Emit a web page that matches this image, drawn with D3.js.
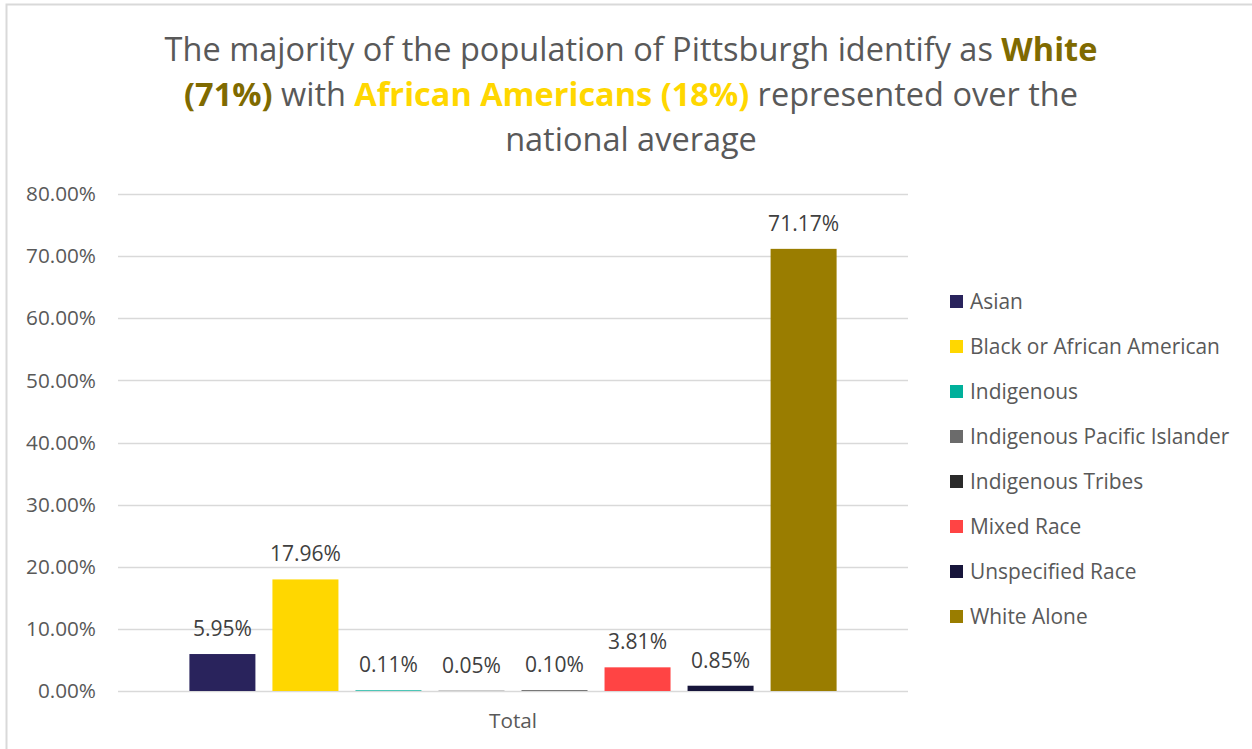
<!DOCTYPE html>
<html>
<head>
<meta charset="utf-8">
<script src="https://cdn.jsdelivr.net/npm/d3@7"></script>
<style>
  html, body { margin: 0; padding: 0; background: #fff; }
  svg { display: block; }
  text { font-family: "Open Sans", Calibri, sans-serif; }
</style>
</head>
<body>
<svg id="chart" width="1252" height="749"></svg>
<script>
const series = ["Asian", "Black or African American", "Indigenous", "Indigenous Pacific Islander",
                "Indigenous Tribes", "Mixed Race", "Unspecified Race", "White Alone"];
const values = [5.95, 17.96, 0.11, 0.05, 0.10, 3.81, 0.85, 71.17];
const colors = ["#29235c", "#ffd700", "#00b09b", "#6b6b6b", "#2a2a2a", "#ff4444", "#17153b", "#9a7d00"];
const category = "Total";
const yTicks = [0, 10, 20, 30, 40, 50, 60, 70, 80];

const svg = d3.select("#chart");
const W = 1252, H = 749;
const FONT = '"Open Sans", Calibri, sans-serif';

// fit a font size so that a sample string has the target width
function fitSize(sample, target, weight) {
  const t = svg.append("text").attr("font-size", 100).attr("font-weight", weight || "normal")
    .style("font-family", FONT).text(sample);
  const w = t.node().getComputedTextLength();
  t.remove();
  return 100 * target / w;
}
const tickSize = fitSize("80.00%", 70);
const labelSize = fitSize("71.17%", 71);
const legendSize = fitSize("Black or African American", 250);
const titleSize = fitSize("The majority of the population of Pittsburgh identify as White", 925);

// chart border
svg.append("rect").attr("x", 6.5).attr("y", 4.5).attr("width", W + 10).attr("height", H + 10)
  .attr("fill", "#fff").attr("stroke", "#d9d9d9").attr("stroke-width", 2);

// title
const tLines = [
  [["The majority of the population of Pittsburgh identify as ", null], ["White", "#7f6a00"]],
  [["(71%)", "#7f6a00"], [" with ", null], ["African Americans (18%)", "#ffd700"], [" represented over the", null]],
  [["national average", null]]
];
const titleY = [61, 106, 151];
tLines.forEach((line, i) => {
  const t = svg.append("text").attr("x", 631).attr("y", titleY[i]).attr("text-anchor", "middle")
    .attr("font-size", titleSize).attr("fill", "#595959");
  line.forEach(([s, c]) => {
    const ts = t.append("tspan").text(s);
    if (c) ts.attr("fill", c).attr("font-weight", "bold");
  });
});

// scales
const plot = { left: 118, right: 908, top: 194, bottom: 691 };
const y = d3.scaleLinear().domain([0, 80]).range([plot.bottom, plot.top]);
const x0 = d3.scaleBand().domain([category]).range([plot.left, plot.right]).padding(0);
const x1 = d3.scaleBand().domain(series).range([x0(category), x0(category) + x0.bandwidth()])
  .paddingInner(0.205).paddingOuter(0.86);

// gridlines
svg.append("g").selectAll("line").data(yTicks).join("line")
  .attr("x1", plot.left).attr("x2", plot.right)
  .attr("y1", d => Math.round(y(d)) + 0.5).attr("y2", d => Math.round(y(d)) + 0.5)
  .attr("stroke", "#d9d9d9").attr("stroke-width", 1.5);

// y axis labels
const yAxis = d3.axisLeft(y).tickValues(yTicks).tickSize(0).tickPadding(0)
  .tickFormat(d => d.toFixed(2) + "%");
const gy = svg.append("g").attr("transform", `translate(96,0)`).call(yAxis);
gy.select(".domain").remove();
gy.selectAll("text").attr("font-size", tickSize).attr("fill", "#595959")
  .style("font-family", FONT);

// x axis label
const xAxis = d3.axisBottom(x0).tickSize(0).tickPadding(0);
const gx = svg.append("g").attr("transform", `translate(0,${plot.bottom})`).call(xAxis);
gx.select(".domain").remove();
gx.selectAll("text").attr("font-size", tickSize).attr("fill", "#595959").attr("dy", 0).attr("y", 37)
  .style("font-family", FONT);

// bars
const data = series.map((s, i) => ({ s, v: values[i], c: colors[i] }));
svg.append("g").selectAll("rect").data(data).join("rect")
  .attr("x", d => x1(d.s)).attr("width", x1.bandwidth())
  .attr("y", d => y(d.v)).attr("height", d => y(0) - y(d.v))
  .attr("fill", d => d.c);

// data labels
svg.append("g").selectAll("text").data(data).join("text")
  .attr("x", d => x1(d.s) + x1.bandwidth() / 2).attr("y", d => y(d.v) - 18)
  .attr("text-anchor", "middle").attr("font-size", labelSize).attr("fill", "#404040")
  .text(d => d.v.toFixed(2) + "%");

// legend
const legend = svg.append("g").selectAll("g").data(data).join("g")
  .attr("transform", (d, i) => `translate(950,${302 + i * 45})`);
legend.append("rect").attr("x", 0).attr("y", -7).attr("width", 13).attr("height", 13).attr("fill", d => d.c);
legend.append("text").attr("x", 20).attr("y", 0).attr("dy", "0.35em")
  .attr("font-size", legendSize).attr("fill", "#595959").text(d => d.s);
</script>
</body>
</html>
